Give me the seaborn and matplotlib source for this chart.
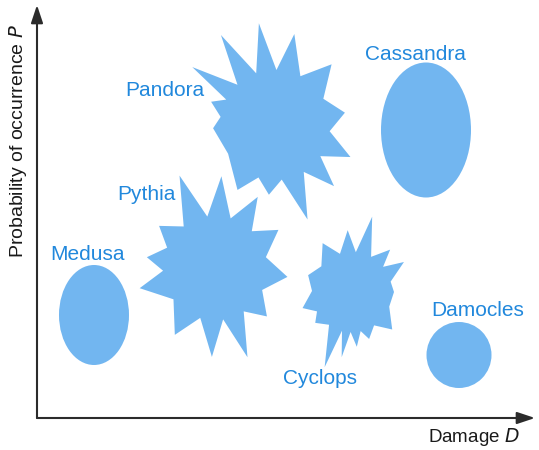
import numpy as np
import matplotlib
matplotlib.use("Agg")
import matplotlib.pyplot as plt
from matplotlib.patches import Ellipse, Polygon
import seaborn as sns

# risk classes: damage D (x) and probability P (y), in plot units
ellipse_names = ["Medusa", "Cassandra", "Damocles"]
ellipse_d = [57, 389, 422]
ellipse_p = [103, 288, 63]
ellipse_w = [70, 90, 65]
ellipse_h = [100, 135, 66]

star_names = ["Pandora", "Pythia", "Cyclops"]
star_d = [238, 178, 315]
star_p = [293, 150, 126]
star_inner = [55, 52, 40]
# spike angles (deg) and spike lengths
star_tip_angles = [
    [99, 78, 47, 10, -23, -46, -71, -95, -120, -177, 160, 145, 121],
    [111, 86, 59, 31, -7, -43, -70, -92, -121, -165, 171, 143],
    [75, 48, 30, 0, -43, -70, -85, -99, -110, -140, -162, 159, 121, 94],
]
star_tip_radii = [
    [103, 93, 83, 71, 82, 85, 100, 70, 75, 62, 68, 101, 105],
    [99, 92, 83, 74, 73, 71, 95, 89, 78, 78, 69, 70],
    [78, 57, 60, 42, 55, 50, 55, 66, 80, 48, 52, 47, 57, 62],
]

label_names = ["Pandora", "Cassandra", "Pythia", "Medusa", "Cyclops", "Damocles"]
label_d = [128, 378, 109, 51, 283, 441]
label_p = [328, 363, 223, 163, 40, 108]

fill = "#72b6f0"
text_blue = "#2188dc"

sns.set_theme(style="white")
plt.rcParams["font.family"] = ["Liberation Sans", "DejaVu Sans"]

fig = plt.figure(figsize=(5.39, 4.5), dpi=100)
ax = fig.add_axes([37 / 539, 32 / 450, 498 / 539, 413 / 450])
ax.set_xlim(0, 498)
ax.set_ylim(0, 413)
ax.set_axis_off()


def star_points(cx, cy, angles, radii, inner):
    order = np.argsort(angles)
    a = np.radians(np.array(angles, dtype=float)[order])
    r = np.array(radii, dtype=float)[order]
    pts = []
    for i in range(len(a)):
        a2 = a[(i + 1) % len(a)] + (2 * np.pi if i == len(a) - 1 else 0)
        mid = (a[i] + a2) / 2
        pts.append((cx + r[i] * np.cos(a[i]), cy + r[i] * np.sin(a[i])))
        pts.append((cx + inner * np.cos(mid), cy + inner * np.sin(mid)))
    return pts


for i in range(len(ellipse_names)):
    ax.add_patch(Ellipse((ellipse_d[i], ellipse_p[i]), ellipse_w[i], ellipse_h[i],
                         facecolor=fill, edgecolor="none"))

for i in range(len(star_names)):
    pts = star_points(star_d[i], star_p[i], star_tip_angles[i], star_tip_radii[i], star_inner[i])
    ax.add_patch(Polygon(pts, closed=True, facecolor=fill, edgecolor="none"))

for name, d, p in zip(label_names, label_d, label_p):
    ax.text(d, p, name, color=text_blue, fontsize=15, ha="center", va="center")

# axes with arrow heads
arrow = dict(arrowstyle="-|>,head_length=0.9,head_width=0.3", color="#2b2b2b", lw=1.5,
             shrinkA=0, shrinkB=0)
ax.annotate("", xy=(0, 413), xytext=(0, 0), arrowprops=arrow, annotation_clip=False)
ax.annotate("", xy=(498, 0), xytext=(0, 0), arrowprops=arrow, annotation_clip=False)

ax.text(437, -19, "Damage $\\it{D}$", fontsize=13.5, ha="center", va="center", color="#1a1a1a")
ax.text(-19, 277, "Probability of occurrence $\\it{P}$", fontsize=14, rotation=90,
        ha="center", va="center", color="#1a1a1a")

fig.savefig("out.png", dpi=100)
